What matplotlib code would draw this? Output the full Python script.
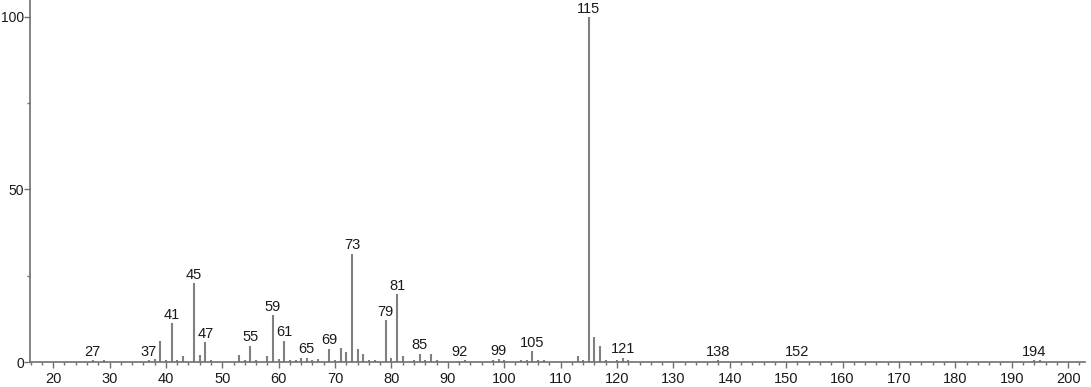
import matplotlib
matplotlib.use("Agg")
import matplotlib.pyplot as plt
from matplotlib.ticker import MultipleLocator

plt.rcParams["font.family"] = ["Liberation Sans", "DejaVu Sans"]

mz = [27, 29, 37, 38, 39, 40, 41, 42, 43, 45, 46, 47, 48, 53, 54, 55, 56, 58,
      59, 60, 61, 62, 63, 64, 65, 66, 67, 69, 70, 71, 72, 73, 74, 75, 76, 77,
      79, 80, 81, 82, 84, 85, 86, 87, 88, 92, 93, 98, 99, 100, 103, 104, 105,
      106, 107, 113, 114, 115, 116, 117, 118, 120, 121, 122, 138, 152, 194, 195]
intensity = [0.5, 0.7, 0.5, 0.9, 6.2, 0.7, 11.2, 0.7, 1.8, 22.9, 2.1, 5.8, 0.7,
             2.1, 0.7, 4.7, 0.7, 1.6,
             13.6, 0.9, 6.2, 0.5, 0.7, 1.2, 1.2, 0.7, 1.0, 3.9, 0.7, 4.0, 2.9,
             31.4, 3.8, 2.4, 0.5, 0.5,
             12.1, 1.2, 19.7, 1.6, 0.7, 2.4, 0.7, 2.4, 0.7, 0.4, 0.5, 0.5, 0.9,
             0.5, 0.5, 0.7, 3.2, 0.7, 0.5, 1.8, 0.7, 100.0, 7.2, 4.6, 0.5, 0.5,
             1.3, 0.5, 0.5, 0.4, 0.5, 0.5]
labeled = [27, 37, 41, 45, 47, 55, 59, 61, 65, 69, 73, 79, 81, 85, 92, 99,
           105, 115, 121, 138, 152, 194]
x_ticks = [20, 30, 40, 50, 60, 70, 80, 90, 100, 110, 120, 130, 140, 150, 160,
           170, 180, 190, 200]
y_ticks = [0, 50, 100]

W, H = 1091, 387
fig = plt.figure(figsize=(W / 100, H / 100), dpi=100)
ax = fig.add_axes([30 / W, 1 - 362 / H, (1085 - 30) / W, 362 / H])

bar_color = "#808080"
ax.vlines(mz, 0, intensity, color=bar_color, linewidth=1.5)

lookup = dict(zip(mz, intensity))
for m in labeled:
    ax.annotate(str(m), (m, lookup[m]), xytext=(0, 1.0), textcoords="offset points",
                ha="center", va="bottom", fontsize=10.5, color="#1a1a1a")

ax.set_xlim(15.9, 203)
ax.set_ylim(0, 104.9)
ax.set_xticks(x_ticks)
ax.set_yticks(y_ticks)
ax.xaxis.set_minor_locator(MultipleLocator(2))
ax.yaxis.set_minor_locator(MultipleLocator(25))

for s in ["top", "right"]:
    ax.spines[s].set_visible(False)
for s in ["left", "bottom"]:
    ax.spines[s].set_color("#707070")
    ax.spines[s].set_linewidth(1.2)

ax.tick_params(axis="x", which="major", length=4, width=1, color="#707070",
               labelsize=10.5, labelcolor="#1a1a1a", direction="out", pad=3)
ax.tick_params(axis="y", which="major", length=4, width=1, color="#707070",
               labelsize=10, labelcolor="#1a1a1a", direction="out", pad=0.3)
ax.tick_params(axis="both", which="minor", length=2.5, width=1, color="#707070",
               direction="out")

fig.savefig("out.png", dpi=100)
